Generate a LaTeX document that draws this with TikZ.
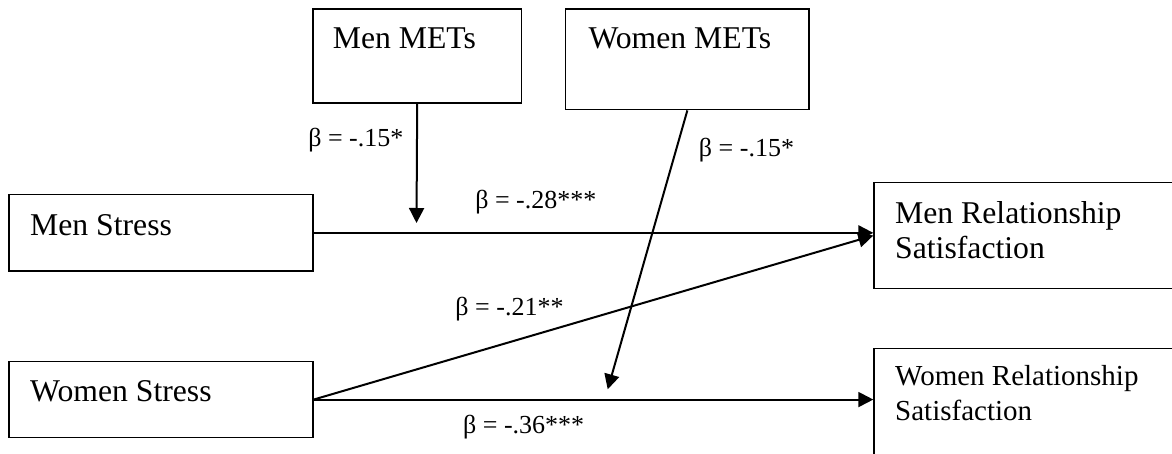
\documentclass[tikz,border=0pt]{standalone}
\usepackage{fontspec}
\setmainfont{Liberation Serif}
\usetikzlibrary{arrows.meta}
\tikzset{
  box/.style={draw, line width=1.4pt, inner sep=0pt, anchor=north west},
  txt/.style={anchor=base west, inner sep=0pt, font=\fontsize{31.7}{36}\selectfont},
  txtsmall/.style={anchor=base west, inner sep=0pt, font=\fontsize{29}{34}\selectfont},
  coef/.style={anchor=base, inner sep=0pt, font=\fontsize{26}{30}\selectfont},
  arr/.style={line width=2pt, -{Triangle[length=15pt,width=15pt]}},
}
\begin{document}
\begin{tikzpicture}[x=1pt,y=-1pt]
\useasboundingbox (0,0) rectangle (1172,453);
\clip (0,0) rectangle (1172,453);
% boxes
\node[box, minimum width=208.4pt, minimum height=94pt] (mm) at (312.3,8.3) {};
\node[box, minimum width=243.3pt, minimum height=100.7pt] (wm) at (565,8.3) {};
\node[box, minimum width=304pt, minimum height=76.3pt] (ms) at (8.3,194) {};
\node[box, minimum width=304pt, minimum height=76.3pt] (ws) at (8.3,360.7) {};
\node[box, minimum width=320pt, minimum height=105.7pt] (mr) at (873.3,182) {};
\node[box, minimum width=320pt, minimum height=125pt] (wr) at (873.3,347.7) {};
% texts
\node[txt] (mmT) at (332.7,48.3) {Men METs};
\node[txt] (wmT) at (588.3,48.3) {Women METs};
\node[txt] (msT) at (30,235) {Men Stress};
\node[txt] (wsT) at (30,401.7) {Women Stress};
\node[txt] (mrT1) at (895,223.3) {Men Relationship};
\node[txt] (mrT2) at (895,258.3) {Satisfaction};
\node[txtsmall] (wrT1) at (895,385) {Women Relationship};
\node[txtsmall] (wrT2) at (895,420) {Satisfaction};
% connectors
\coordinate (mmTip) at (416.5,223);
\coordinate (wmTip) at (607.7,389.3);
\draw[arr] (mm.south) -- (mmTip);
\draw[arr] (wm.south) -- (wmTip);
\draw[arr] (ms.east) -- (ms.east -| mr.west);
\draw[arr] (ws.east) -- (mr.west);
\draw[arr] (ws.east) -- (ws.east -| wr.west);
% coefficients
\node[coef] (c1) at (355.8,146.7) {β = -.15*};
\node[coef] (c2) at (746.5,156.7) {β = -.15*};
\node[coef] (c3) at (535.8,208.3) {β = -.28***};
\node[coef] (c4) at (509.5,315) {β = -.21**};
\node[coef] (c5) at (523.7,433.3) {β = -.36***};
\end{tikzpicture}
\end{document}
